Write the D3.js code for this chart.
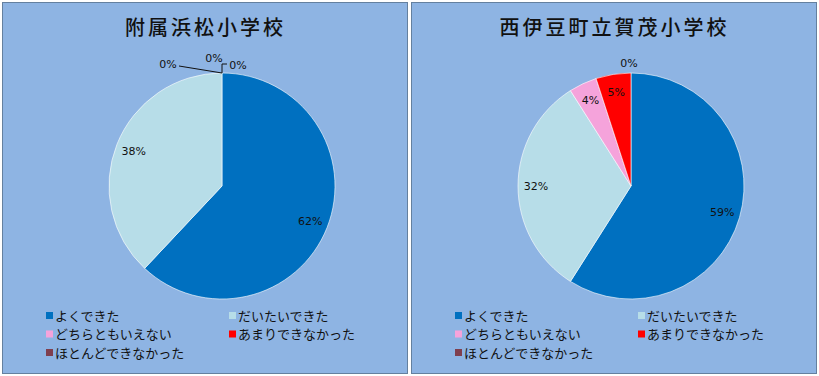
<!DOCTYPE html>
<html>
<head>
<meta charset="utf-8">
<script src="https://cdn.jsdelivr.net/npm/d3@7"></script>
<style>
  body { margin: 0; background: #fff; }
  svg { display: block; font-family: "Noto Sans CJK JP", sans-serif; }
</style>
</head>
<body>
<svg id="chart" width="819" height="376"></svg>
<script>
var categories = ["よくできた", "だいたいできた", "どちらともいえない", "あまりできなかった", "ほとんどできなかった"];
var schoolNames = ["附属浜松小学校", "西伊豆町立賀茂小学校"];
var hamamatsuValues = [62, 38, 0, 0, 0];
var kamoValues = [59, 32, 4, 5, 0];
var colors = ["#0070C0", "#B7DDE8", "#F5A3DB", "#FF0000", "#7F3F4F"];

var svg = d3.select("#chart");

function drawPanel(x0, title, values) {
  var w = 405, h = 371;
  var g = svg.append("g").attr("transform", "translate(" + x0 + ",2)");

  g.append("rect")
    .attr("x", 0.5).attr("y", 0.5)
    .attr("width", w).attr("height", h)
    .attr("fill", "#8EB4E3")
    .attr("stroke", "#64809F");

  g.append("text")
    .attr("x", w / 2 + 1).attr("y", 33)
    .attr("text-anchor", "middle")
    .attr("font-size", 20)
    .attr("font-weight", 500)
    .attr("letter-spacing", 3)
    .attr("fill", "#111")
    .text(title);

  var r = 113, cx = 220, cy = 184;
  var pie = d3.pie().sort(null).value(function(d) { return d; });
  var arcs = pie(values);
  var arc = d3.arc().innerRadius(0).outerRadius(r);
  var labelArc = d3.arc().innerRadius(r * 0.84).outerRadius(r * 0.84);
  var outerArc = d3.arc().innerRadius(r + 10).outerRadius(r + 10);

  var pg = g.append("g").attr("transform", "translate(" + cx + "," + cy + ")");

  pg.selectAll("path.slice")
    .data(arcs)
    .enter().append("path")
      .attr("class", "slice")
      .attr("d", arc)
      .attr("fill", function(d, i) { return colors[i]; })
      .attr("stroke", function(d) { return d.value > 0 ? "#fff" : "none"; })
      .attr("stroke-width", 0.6);

  // labels: inside for non-zero slices, outside for zero slices
  var zeros = arcs.filter(function(d) { return d.value === 0; });
  var zeroOffsets = zeros.length === 3
    ? [[-54, 1], [-8, -5], [16, 2]]
    : [[-2, 0]];

  pg.selectAll("text.val")
    .data(arcs.filter(function(d) { return d.value > 0; }))
    .enter().append("text")
      .attr("class", "val")
      .attr("transform", function(d) { return "translate(" + labelArc.centroid(d) + ")"; })
      .attr("text-anchor", "middle")
      .attr("dy", "0.35em")
      .attr("font-size", 11)
      .attr("font-family", "Verdana, 'DejaVu Sans', sans-serif")
      .attr("fill", "#111")
      .text(function(d) { return d.value + "%"; });

  zeros.forEach(function(d, k) {
    var p = outerArc.centroid(d);
    var tx = p[0] + zeroOffsets[k][0], ty = p[1] + zeroOffsets[k][1];
    pg.append("text")
      .attr("x", tx).attr("y", ty)
      .attr("text-anchor", "middle")
      .attr("dy", "0.35em")
      .attr("font-size", 11)
      .attr("font-family", "Verdana, 'DejaVu Sans', sans-serif")
      .attr("fill", "#111")
      .text("0%");
    if (zeros.length === 3 && k !== 1) {
      var e = [r * Math.sin(d.startAngle), -r * Math.cos(d.startAngle)];
      if (k === 0) {
        pg.append("path")
          .attr("d", "M" + (tx + 11) + "," + (ty + 2) + "L" + e[0] + "," + e[1])
          .attr("stroke", "#111").attr("fill", "none").attr("stroke-width", 1);
      } else {
        pg.append("path")
          .attr("d", "M" + e[0] + "," + e[1] + "V" + (ty - 1) + "H" + (tx - 11))
          .attr("stroke", "#111").attr("fill", "none").attr("stroke-width", 1);
      }
    }
  });

  // legend
  var lg = g.append("g").attr("transform", "translate(44,314)");
  var items = lg.selectAll("g.item")
    .data(categories)
    .enter().append("g")
      .attr("class", "item")
      .attr("transform", function(d, i) {
        return "translate(" + ((i % 2) * 183) + "," + (Math.floor(i / 2) * 18.5) + ")";
      });
  items.append("rect")
    .attr("x", 0).attr("y", -4)
    .attr("width", 7).attr("height", 7)
    .attr("fill", function(d, i) { return colors[i]; });
  items.append("text")
    .attr("x", 9).attr("y", 0)
    .attr("dy", "0.35em")
    .attr("font-size", 13)
    .attr("fill", "#111")
    .text(function(d) { return d; });
}

drawPanel(2, schoolNames[0], hamamatsuValues);
drawPanel(411, schoolNames[1], kamoValues);
</script>
</body>
</html>
